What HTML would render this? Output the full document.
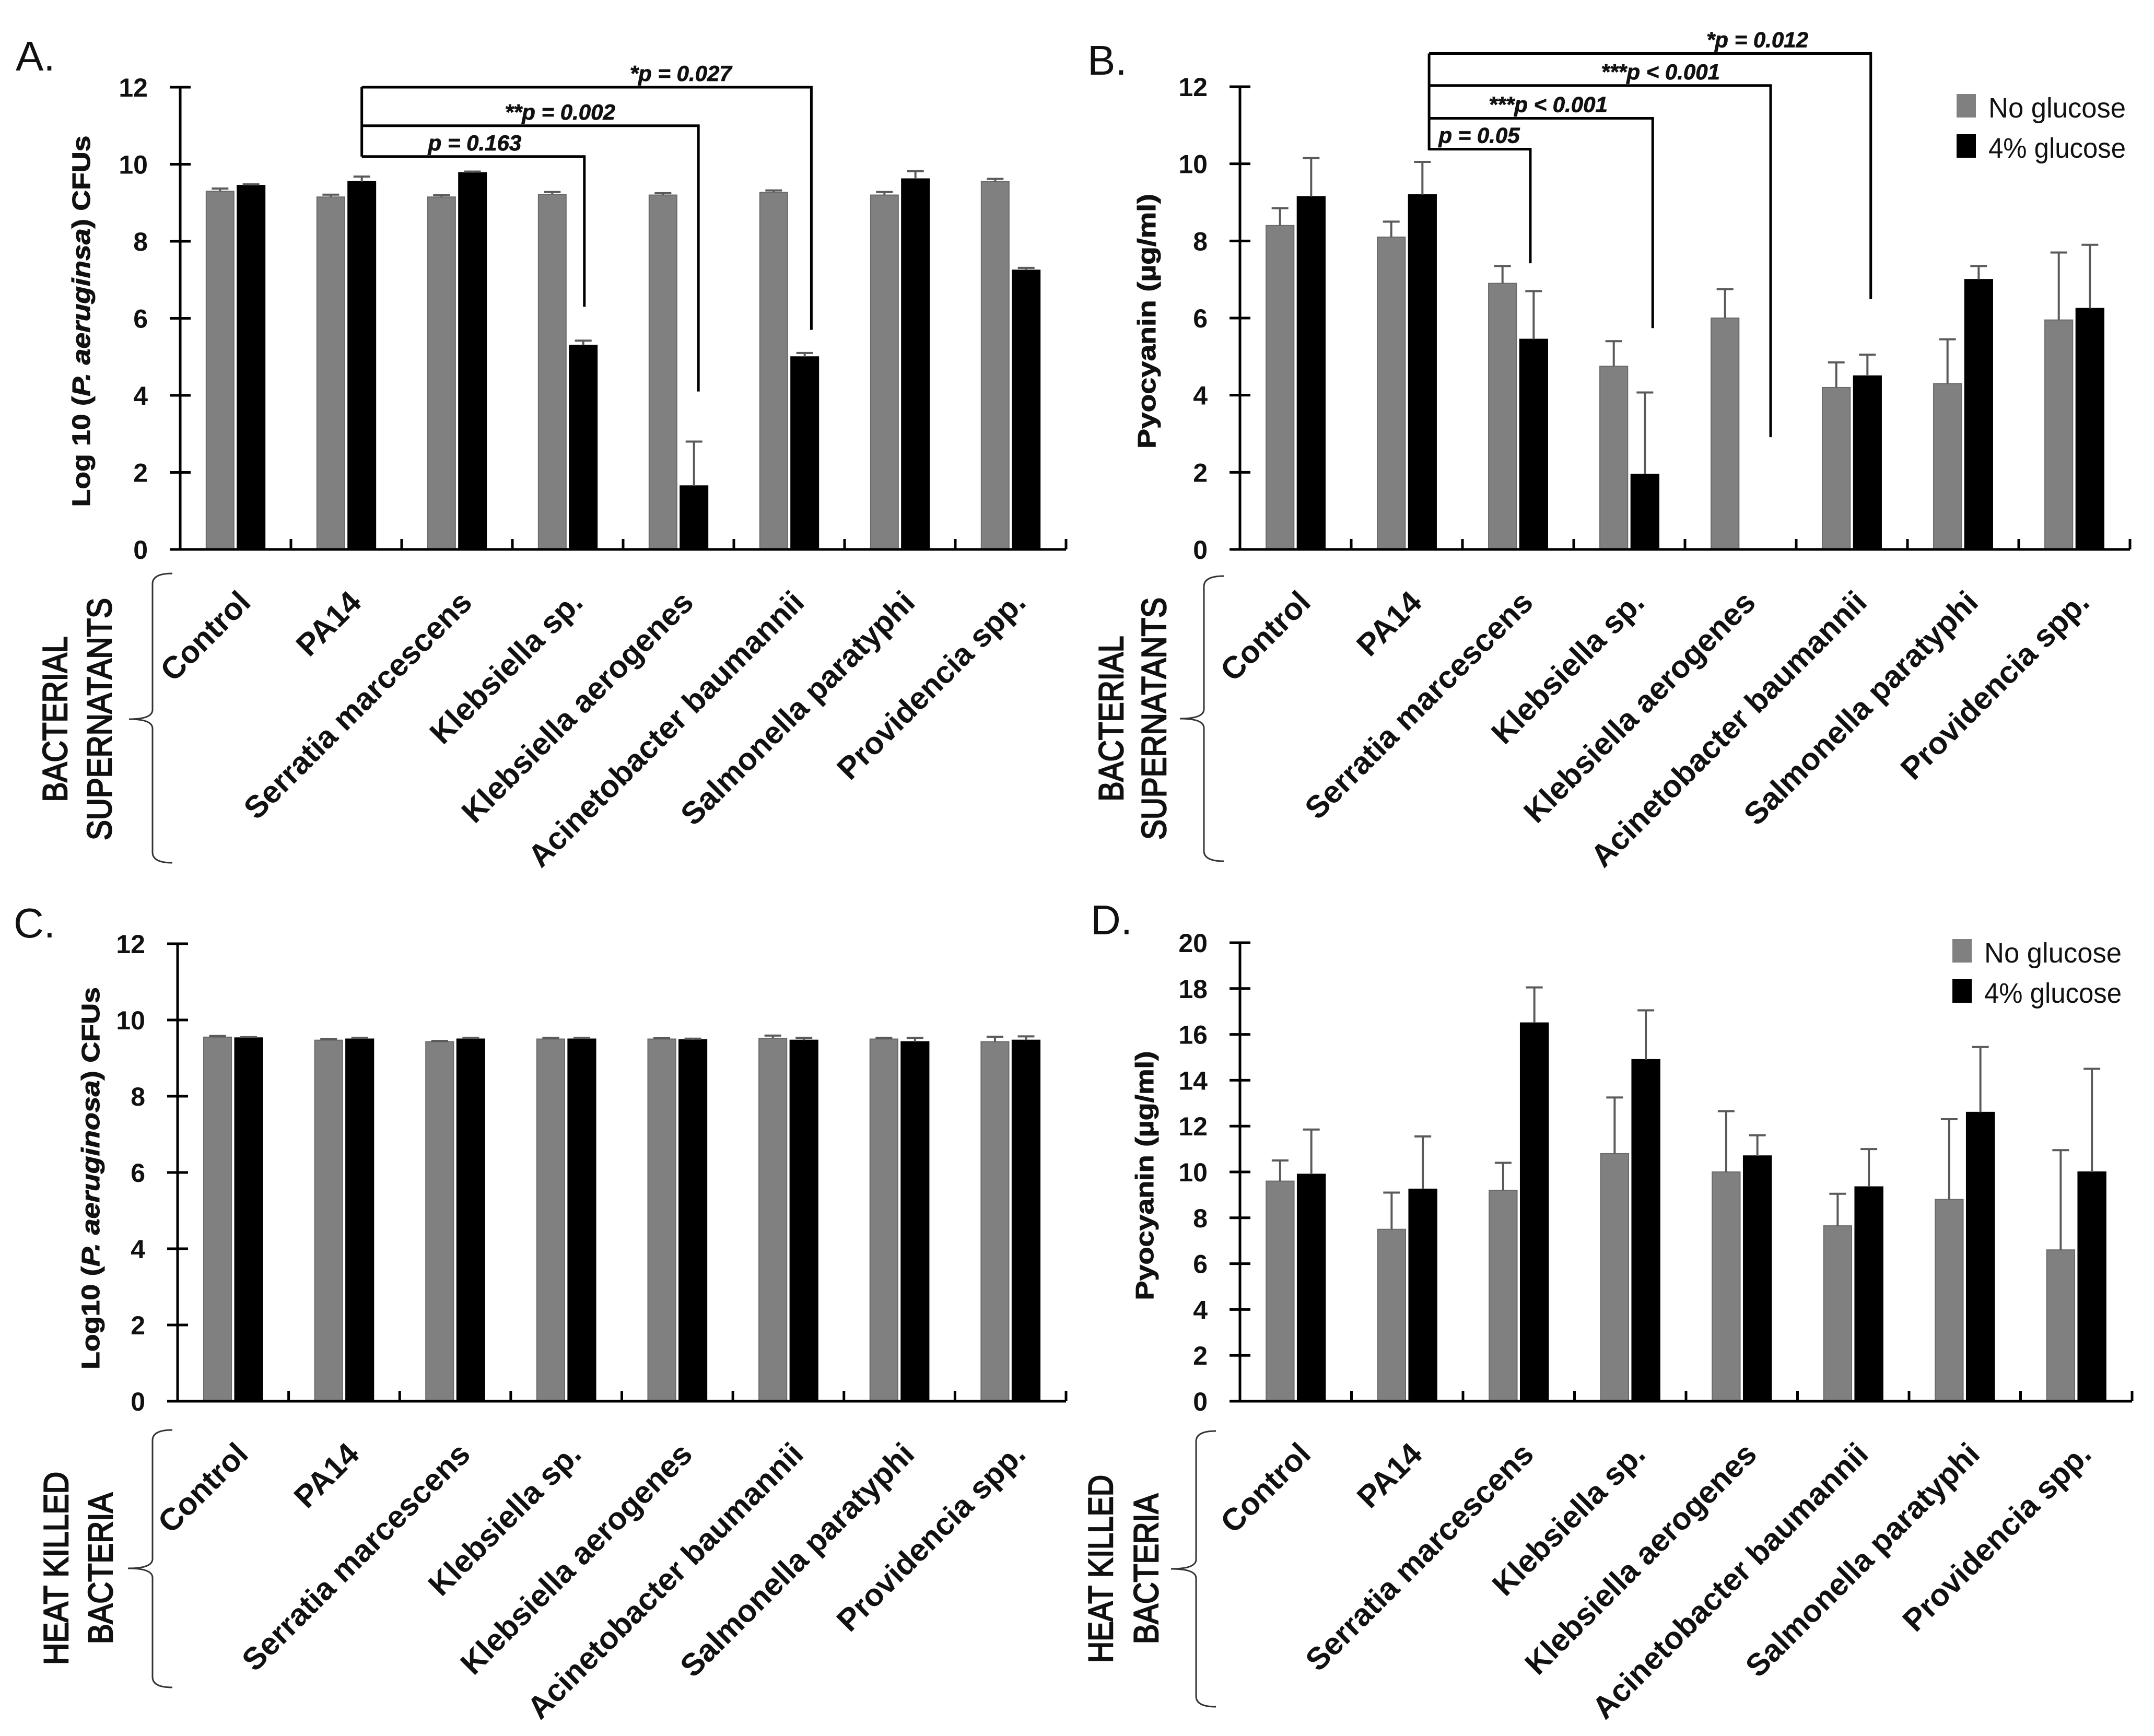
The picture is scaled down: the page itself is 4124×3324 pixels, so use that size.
<!DOCTYPE html>
<html><head><meta charset="utf-8"><style>
html,body{margin:0;padding:0;background:#fff;}
svg{display:block;font-family:"Liberation Sans",sans-serif;}
</style></head><body>
<svg id="fig" xmlns="http://www.w3.org/2000/svg" width="4124" height="3324" viewBox="0 0 4124 3324"></svg>
<script>
const categories = ["Control","PA14","Serratia marcescens","Klebsiella sp.","Klebsiella aerogenes","Acinetobacter baumannii","Salmonella paratyphi","Providencia spp."];
const aGray = [9.3,9.15,9.15,9.22,9.2,9.27,9.2,9.55];
const aGrayErr = [0.07,0.06,0.05,0.06,0.05,0.05,0.08,0.07];
const aBlack = [9.45,9.55,9.78,5.3,1.65,5.0,9.62,7.25];
const aBlackErr = [0.03,0.13,0.03,0.12,1.15,0.1,0.2,0.06];
const bGray = [8.4,8.1,6.9,4.75,6.0,4.2,4.3,5.95];
const bGrayErr = [0.45,0.4,0.45,0.65,0.75,0.65,1.15,1.75];
const bBlack = [9.15,9.2,5.45,1.95,0,4.5,7.0,6.25];
const bBlackErr = [1.0,0.85,1.25,2.12,0,0.55,0.35,1.65];
const cGray = [9.55,9.47,9.43,9.5,9.5,9.52,9.5,9.43];
const cGrayErr = [0.03,0.03,0.02,0.03,0.02,0.07,0.03,0.13];
const cBlack = [9.53,9.5,9.5,9.5,9.48,9.47,9.43,9.47];
const cBlackErr = [0.02,0.03,0.03,0.03,0.03,0.06,0.1,0.1];
const dGray = [9.6,7.5,9.2,10.8,10.0,7.65,8.8,6.6];
const dGrayErr = [0.9,1.6,1.2,2.45,2.65,1.4,3.5,4.35];
const dBlack = [9.9,9.25,16.5,14.9,10.7,9.35,12.6,10.0];
const dBlackErr = [1.95,2.3,1.55,2.15,0.9,1.65,2.85,4.5];
const ticksCFU = [0,2,4,6,8,10,12];
const ticksPyoB = [0,2,4,6,8,10,12];
const ticksPyoD = [0,2,4,6,8,10,12,14,16,18,20];
const aSigLabels = ["p = 0.163","**p = 0.002","*p = 0.027"];
const aSigLevel = [10.2,11.0,12.0];
const aSigDrop = [3.65,4.68,5.70];
const aSigBottom = [6.3,4.1,5.7];
const aSigTextPos = [2.66,3.43,4.52];
const bSigLabels = ["p = 0.05","***p < 0.001","***p < 0.001","*p = 0.012"];
const bSigLevel = [10.38,11.18,12.03,12.86];
const bSigDrop = [2.61,3.71,4.77,5.67];
const bSigBottom = [7.42,5.74,2.91,6.49];
const bSigTextPos = [2.15,2.77,3.78,4.65];

const NS="http://www.w3.org/2000/svg";
const svg=document.getElementById('fig');
function mk(tag,attrs,parent,text){const e=document.createElementNS(NS,tag);for(const k in attrs)e.setAttribute(k,attrs[k]);if(text!==undefined)e.textContent=text;(parent||svg).appendChild(e);return e;}

function panel(cfg){
  const g=mk('g',{});
  
  
  const n=categories.length, gw=(cfg.x1-cfg.x0)/n;
  const X=p=>cfg.x0+p*gw;
  const Y=v=>cfg.y0-(v/cfg.max)*(cfg.y0-cfg.yTop);
  const L=mk('text',{x:cfg.letterX,y:cfg.letterY,'font-size':80,fill:'#111'},g,cfg.letter);
  
  
  for(let i=0;i<n;i++){
    [[cfg.gray,cfg.grayErr,0.235,'#808080','bar-no-glucose'],[cfg.black,cfg.blackErr,0.515,'#000','bar-4pct-glucose']].forEach(([vals,errs,off,col,nm])=>{
      const v=vals[i]; if(v<=0) return;
      const r=mk('rect',{x:X(i+off),y:Y(v),width:gw*0.25,height:Y(0)-Y(v),fill:col,stroke:col==='#000'?'#000':'#6a6a6a','stroke-width':2},g);
      
      
      const cx=X(i+off+0.125), top=Y(v+errs[i]);
      const e=mk('path',{d:`M${cx},${Y(v)}V${top}M${cx-16},${top}H${cx+16}`,stroke:'#5a5a5a','stroke-width':4,fill:'none'},g);
      
      
    });
  }
  const ax=mk('path',{d:`M${cfg.x0},${cfg.yTop}V${cfg.y0}M${cfg.x0-20},${cfg.y0}H${cfg.x1}`,stroke:'#000','stroke-width':5,fill:'none'},g);
  
  
  for(let i=1;i<=n;i++){mk('path',{d:`M${X(i)},${cfg.y0}V${cfg.y0-20}`,stroke:'#000','stroke-width':5},g);}
  cfg.ticks.forEach(t=>{
    mk('path',{d:`M${cfg.x0-20},${Y(t)}H${cfg.x0+20}`,stroke:'#000','stroke-width':5},g);
    const tl=mk('text',{x:cfg.x0-62,y:Y(t)+18,'font-size':50,'font-weight':'bold','text-anchor':'end',fill:'#111'},g,String(t));
    
    
  });
  const yt=mk('text',{x:0,y:0,transform:`translate(${cfg.titleX},${cfg.titleY}) rotate(-90)`,'font-size':48,'font-weight':'bold','text-anchor':'middle',fill:'#111',stroke:'#111','stroke-width':1,textLength:cfg.titleLen,lengthAdjust:'spacingAndGlyphs'},g);
  
  
  cfg.title.forEach(([s,it])=>{mk('tspan',it?{'font-style':'italic'}:{},yt,s);});
  categories.forEach((c,i)=>{
    const cx=X(i+0.5)+32, cy=cfg.y0+105;
    const t=mk('text',{x:0,y:0,transform:`translate(${cx},${cy}) rotate(-45)`,'font-size':60,'font-weight':'bold','text-anchor':'end',fill:'#111'},g,c);
    
    
  });
  const b=cfg.brace;
  const br=mk('path',{d:`M${b.x+38},${b.top}Q${b.x},${b.top} ${b.x},${b.top+20}V${b.mid-18}Q${b.x},${b.mid} ${b.tip},${b.mid}Q${b.x},${b.mid} ${b.x},${b.mid+18}V${b.bot-20}Q${b.x},${b.bot} ${b.x+38},${b.bot}`,stroke:'#333','stroke-width':3,fill:'none'},g);
  
  
  cfg.group.forEach(([s,x,len])=>{
    const t=mk('text',{x:0,y:0,transform:`translate(${x},${b.mid}) rotate(-90)`,'font-size':66,'text-anchor':'middle',fill:'#111',stroke:'#111','stroke-width':2.5,textLength:len,lengthAdjust:'spacingAndGlyphs'},g,s);
    
    
  });
  if(cfg.sig){
    const s=cfg.sig;
    const top=Math.max(...s.level);
    const lv=mk('path',{d:`M${X(s.left)},${Y(top)}V${Y(s.leftBottom)}`,stroke:'#000','stroke-width':5,fill:'none'},g);
    
    
    s.labels.forEach((lab,i)=>{
      const p=mk('path',{d:`M${X(s.left)},${Y(s.level[i])}H${X(s.drop[i])}V${Y(s.bottom[i])}`,stroke:'#000','stroke-width':5,fill:'none'},g);
      
      
      const t=mk('text',{x:X(s.textPos[i]),y:Y(s.level[i])-12,'font-size':42,'font-weight':'bold','font-style':'italic','text-anchor':'middle',fill:'#111',stroke:'#111','stroke-width':0.8},g,lab);
      
      
    });
  }
  if(cfg.legend){
    const lg=mk('g',{},g);
    
    
    [['No glucose','#808080',0],['4% glucose','#000',77]].forEach(([s,c,dy])=>{
      const r=mk('rect',{x:cfg.legend.x,y:cfg.legend.y+dy,width:37,height:45,fill:c},lg);
      
      
      const t=mk('text',{x:cfg.legend.x+61,y:cfg.legend.y+dy+45,'font-size':54,fill:'#111',textLength:263,lengthAdjust:'spacingAndGlyphs'},lg,s);
      
      
    });
  }
}

panel({name:'panel-a',letter:'A.',letterX:30,letterY:135,x0:345,x1:2041,y0:1052,yTop:167,max:12,ticks:ticksCFU,
  gray:aGray,grayErr:aGrayErr,black:aBlack,blackErr:aBlackErr,
  title:[['Log 10 (',false],['P. aeruginsa',true],[') CFUs',false]],titleX:172,titleY:615,titleLen:711,
  brace:{x:292,top:1098,bot:1652,mid:1377,tip:247},
  group:[['BACTERIAL',128,317],['SUPERNATANTS',213,464]],
  sig:{left:1.64,leftBottom:10.2,labels:aSigLabels,level:aSigLevel,drop:aSigDrop,bottom:aSigBottom,textPos:aSigTextPos}});
panel({name:'panel-b',letter:'B.',letterX:2082,letterY:143,x0:2374,x1:4078,y0:1052,yTop:166,max:12,ticks:ticksPyoB,
  gray:bGray,grayErr:bGrayErr,black:bBlack,blackErr:bBlackErr,
  title:[['Pyocyanin (µg/ml)',false]],titleX:2212,titleY:615,titleLen:488,
  brace:{x:2305,top:1103,bot:1649,mid:1376,tip:2259},
  group:[['BACTERIAL',2150,317],['SUPERNATANTS',2232,464]],
  sig:{left:1.70,leftBottom:10.35,labels:bSigLabels,level:bSigLevel,drop:bSigDrop,bottom:bSigBottom,textPos:bSigTextPos},
  legend:{x:3746,y:180}});
panel({name:'panel-c',letter:'C.',letterX:26,letterY:1795,x0:340,x1:2041,y0:2683,yTop:1807,max:12,ticks:ticksCFU,
  gray:cGray,grayErr:cGrayErr,black:cBlack,blackErr:cBlackErr,
  title:[['Log10 (',false],['P. aeruginosa',true],[') CFUs',false]],titleX:190,titleY:2256,titleLen:732,
  brace:{x:292,top:2738,bot:3231,mid:3003,tip:245},
  group:[['HEAT KILLED',130,370],['BACTERIA',215,290]]});
panel({name:'panel-d',letter:'D.',letterX:2088,letterY:1789,x0:2374,x1:4082,y0:2683,yTop:1805,max:20,ticks:ticksPyoD,
  gray:dGray,grayErr:dGrayErr,black:dBlack,blackErr:dBlackErr,
  title:[['Pyocyanin (µg/ml)',false]],titleX:2208,titleY:2251,titleLen:477,
  brace:{x:2290,top:2740,bot:3268,mid:3004,tip:2242},
  group:[['HEAT KILLED',2130,360],['BACTERIA',2217,288]],
  legend:{x:3738,y:1798}});
</script>
</body></html>
